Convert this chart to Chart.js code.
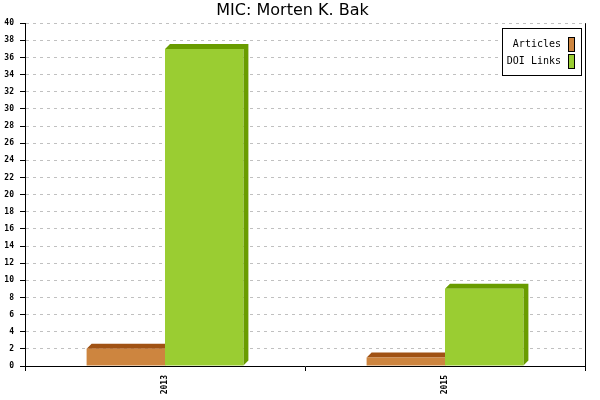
<!DOCTYPE html>
<html>
<head>
<meta charset="utf-8">
<script src="https://cdn.jsdelivr.net/npm/chart.js@4.4.1/dist/chart.umd.min.js"></script>
<style>
  html, body { margin: 0; padding: 0; background: #fff; }
  #wrap { width: 600px; height: 400px; }
</style>
</head>
<body>
<div id="wrap"><canvas id="micChart"></canvas></div>
<script>
const years = ['2013', '2015'];
const articles = [2, 1];
const doiLinks = [37, 9];
const seriesNames = ['Articles', 'DOI Links'];

const faceColors = ['#CD853F', '#9ACD32'];
const depthColors = ['#A05214', '#699C00'];
const DEPTH = 5;

// fake 3d: top + right side drawn behind the bar faces
const depthPlugin = {
  id: 'depth',
  beforeDatasetsDraw(chart) {
    const ctx = chart.ctx;
    chart.data.datasets.forEach((ds, i) => {
      const meta = chart.getDatasetMeta(i);
      ctx.save();
      ctx.fillStyle = depthColors[i];
      meta.data.forEach(bar => {
        const p = bar.getProps(['x', 'y', 'base', 'width'], true);
        const l = p.x - p.width / 2;
        const r = p.x + p.width / 2;
        ctx.beginPath();
        ctx.moveTo(l, p.y);
        ctx.lineTo(l + DEPTH, p.y - DEPTH);
        ctx.lineTo(r + DEPTH, p.y - DEPTH);
        ctx.lineTo(r + DEPTH, p.base - DEPTH);
        ctx.lineTo(r, p.base);
        ctx.lineTo(r, p.y);
        ctx.closePath();
        ctx.fill();
      });
      ctx.restore();
    });
  }
};

const framePlugin = {
  id: 'frame',
  afterDraw(chart) {
    const ctx = chart.ctx;
    const a = chart.chartArea;
    ctx.save();
    ctx.strokeStyle = '#000';
    ctx.lineWidth = 1;
    ctx.beginPath();
    ctx.moveTo(Math.round(a.right) + 0.5, a.top);
    ctx.lineTo(Math.round(a.right) + 0.5, a.bottom);
    ctx.stroke();

    // legend box, text first then swatch
    const bx = a.right - 83, by = a.top + 5, bw = 79, bh = 47;
    ctx.fillStyle = '#fff';
    ctx.fillRect(bx, by, bw, bh);
    ctx.strokeRect(Math.round(bx) + 0.5, Math.round(by) + 0.5, bw, bh);
    ctx.font = '10px "DejaVu Sans Mono", monospace';
    ctx.textAlign = 'right';
    ctx.textBaseline = 'middle';
    seriesNames.forEach((name, i) => {
      const cy = by + 16 + i * 17;
      ctx.fillStyle = '#000';
      ctx.fillText(name, bx + 59, cy);
      ctx.fillStyle = faceColors[i];
      ctx.fillRect(bx + 66, cy - 7, 6, 14);
      ctx.strokeRect(Math.round(bx + 66) + 0.5, Math.round(cy - 7) + 0.5, 6, 14);
    });
    ctx.restore();
  }
};

const tickFont = { family: '"DejaVu Sans Mono", monospace', size: 8, weight: 'bold' };

new Chart(document.getElementById('micChart'), {
  type: 'bar',
  data: {
    labels: years,
    datasets: [
      { label: seriesNames[0], data: articles, backgroundColor: faceColors[0], borderWidth: 0 },
      { label: seriesNames[1], data: doiLinks, backgroundColor: faceColors[1], borderWidth: 0 }
    ]
  },
  options: {
    responsive: true,
    maintainAspectRatio: false,
    animation: false,
    categoryPercentage: 0.56,
    barPercentage: 1,
    layout: { padding: { left: 0, right: 15, top: 0, bottom: 0 } },
    plugins: {
      legend: { display: false },
      tooltip: { enabled: false },
      title: {
        display: true,
        text: 'MIC: Morten K. Bak',
        color: '#000',
        font: { family: '"DejaVu Sans", sans-serif', size: 16, weight: 'normal' },
        padding: { top: 1, bottom: 3 }
      }
    },
    scales: {
      x: {
        afterFit: s => { s.height = 34; },
        grid: { drawOnChartArea: false, tickLength: 5, tickColor: '#000', color: '#000' },
        border: { color: '#000', width: 1 },
        ticks: { color: '#000', font: tickFont, minRotation: 90, maxRotation: 90, padding: 4 }
      },
      y: {
        min: 0,
        max: 40,
        afterFit: s => { s.width = 25; },
        grid: { color: '#c0c0c0', tickColor: '#000', tickLength: 5 },
        border: { color: '#000', width: 1, dash: [3, 4] },
        ticks: { stepSize: 2, color: '#000', font: tickFont, padding: 6 }
      }
    }
  },
  plugins: [depthPlugin, framePlugin]
});
</script>
</body>
</html>
